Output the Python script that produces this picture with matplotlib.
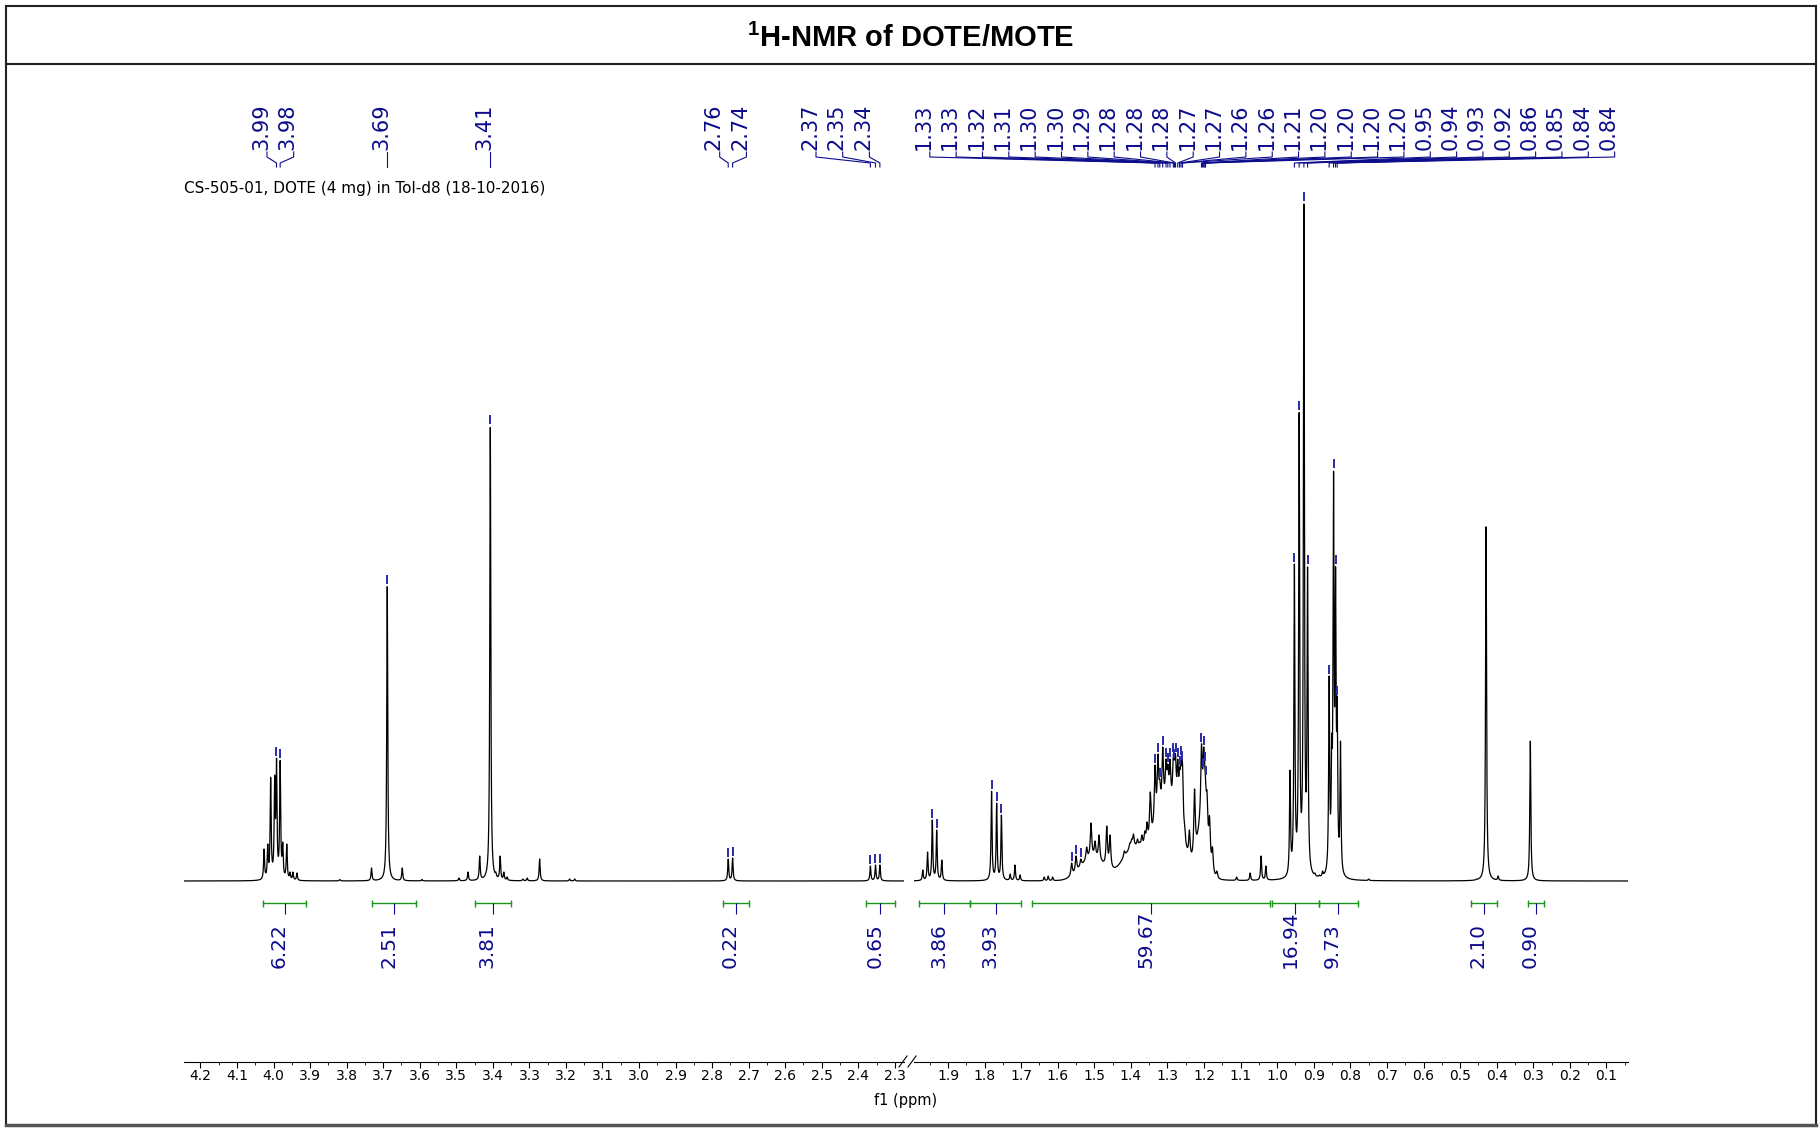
import numpy as np
import matplotlib
matplotlib.use('Agg')
import matplotlib.pyplot as plt
from matplotlib.lines import Line2D
from matplotlib.ticker import MultipleLocator, FormatStrFormatter

plt.rcParams['font.family'] = 'DejaVu Sans'
plt.rcParams['mathtext.fontset'] = 'custom'
plt.rcParams['mathtext.bf'] = 'Liberation Sans:bold'
plt.rcParams['mathtext.rm'] = 'Liberation Sans'

NAVY = '#0c0c8c'
GREEN = '#1a961a'

# === peak list (ppm, intensity) ===
# picked peaks that carry a shift label at the top
pick_ppm = [3.992, 3.982, 3.689, 3.407, 2.756, 2.744, 2.367, 2.353, 2.341,
            1.334, 1.326, 1.321, 1.313, 1.304, 1.299, 1.293, 1.284, 1.281, 1.278,
            1.272, 1.267, 1.263, 1.259,
            1.207, 1.204, 1.201, 1.198, 1.196,
            0.953, 0.940, 0.927, 0.917, 0.858, 0.846, 0.8405, 0.836]
pick_height = [123, 121, 295, 455, 22, 23, 15, 16, 16,
               116, 127, 102, 134, 122, 117, 122, 127, 121, 127,
               122, 114, 124, 119,
               137, 112, 134, 118, 104,
               317, 469, 678, 315, 205, 411, 315, 184]

# picked peaks without a label
mark_ppm = [1.943, 1.931, 1.781, 1.767, 1.754, 1.562, 1.550, 1.537]
mark_height = [61, 51, 90, 78, 66, 18, 25, 22]

# remaining lines
other_ppm = [4.026, 4.016, 4.008, 3.997, 3.975, 3.964, 3.955, 3.947, 3.936,
             3.819, 3.732, 3.648, 3.594, 3.493, 3.468, 3.436, 3.392, 3.380,
             3.370, 3.361, 3.318, 3.306, 3.272, 3.190, 3.176,
             1.969, 1.956, 1.917, 1.730, 1.717, 1.703, 1.637, 1.626, 1.614,
             1.521, 1.509, 1.498, 1.487, 1.466, 1.457, 1.426, 1.418, 1.412,
             1.403, 1.398, 1.393, 1.382, 1.376, 1.370, 1.362, 1.356, 1.347,
             1.253, 1.240, 1.226,
             1.192, 1.185, 1.177, 1.165, 1.111, 1.074, 1.044, 1.031,
             0.965, 0.897, 0.885, 0.876, 0.851, 0.827, 0.818, 0.750,
             0.455, 0.429, 0.396, 0.308]
other_height = [32, 37, 104, 106, 39, 37, 9, 9, 8,
                1.5, 13, 13, 1.5, 3, 9, 25, 9, 25,
                9, 4, 2, 3, 22, 2, 2,
                11, 29, 21, 7, 16, 6, 4, 5, 4,
                34, 58, 40, 46, 55, 46, 20, 30, 28,
                38, 42, 47, 42, 39, 46, 50, 59, 89,
                57, 51, 92,
                90, 65, 34, 10, 4, 8, 25, 15,
                111, 8, 6, 10, 147, 140, 8, 2,
                2, 355, 5, 140]

# broad envelope under the methylene region
hump_ppm = [1.505, 1.395, 1.300, 1.205]
hump_height = [22, 30, 72, 52]
hump_sigma = [0.032, 0.030, 0.035, 0.013]

# integrals
int_from = [4.03, 3.73, 3.45, 2.77, 2.38, 1.98, 1.84, 1.67, 1.013, 0.887, 0.47, 0.315]
int_to = [3.91, 3.61, 3.35, 2.70, 2.30, 1.84, 1.70, 1.02, 0.887, 0.78, 0.40, 0.27]
int_value = [6.22, 2.51, 3.81, 0.22, 0.65, 3.86, 3.93, 59.67, 16.94, 9.73, 2.10, 0.90]

# ppm window of the two panels (axis break between them)
left_lim = (4.244, 2.275)
right_lim = (1.993, 0.042)

# === line shape ===
line_ppm = np.array(pick_ppm + mark_ppm + other_ppm)
line_height = np.array(pick_height + mark_height + other_height, dtype=float)
line_hwhm = np.where((line_ppm > 1.15) & (line_ppm < 1.6), 0.0024, 0.0016)


def envelope(x):
    x = np.asarray(x, dtype=float)[:, None]
    return (np.array(hump_height) *
            np.exp(-0.5 * ((x - np.array(hump_ppm)) / np.array(hump_sigma)) ** 2)).sum(axis=1)


def lines(x, amp):
    d = (np.asarray(x, dtype=float)[:, None] - line_ppm) / line_hwhm
    return (amp / (1 + d ** 2)).sum(axis=1)


# amplitudes so that the trace reaches each listed height
target = np.clip(line_height - envelope(line_ppm), 0, None)
amp = target.copy()
for _ in range(500):
    amp = np.clip(amp + 0.5 * (target - lines(line_ppm, amp)), 0, None)


def spectrum(x):
    return envelope(x) + lines(x, amp)


# === figure ===
W, H = 1820, 1129
fig = plt.figure(figsize=(W / 100, H / 100), dpi=100)


def fx(x):
    return x / W


def fy(y):
    return 1 - y / H


base_px = 881.0     # pixel row of the spectrum baseline
axis_px = 1061.7    # pixel row of the ppm axis
top_px = 70.0
ax_l = fig.add_axes([fx(184.4), fy(axis_px), (904 - 184.4) / W, (axis_px - top_px) / H])
ax_r = fig.add_axes([fx(914), fy(axis_px), (1627.6 - 914) / W, (axis_px - top_px) / H])

for ax, lim in ((ax_l, left_lim), (ax_r, right_lim)):
    ax.set_xlim(*lim)
    ax.set_ylim(-(axis_px - base_px), base_px - top_px)
    for side in ('left', 'right', 'top'):
        ax.spines[side].set_visible(False)
    ax.spines['bottom'].set_linewidth(0.8)
    ax.set_yticks([])
    ax.xaxis.set_major_locator(MultipleLocator(0.1))
    ax.xaxis.set_minor_locator(MultipleLocator(0.05))
    ax.xaxis.set_major_formatter(FormatStrFormatter('%.1f'))
    ax.tick_params(axis='x', which='major', direction='out', length=4, width=0.8,
                   labelsize=10, pad=1.5)
    ax.tick_params(axis='x', which='minor', direction='out', length=2, width=0.6)
    ax.patch.set_alpha(0)

    xs = np.linspace(lim[0], lim[1], 10000)
    ax.plot(xs, spectrum(xs), color='black', lw=0.9)

# markers above picked peaks
for p in pick_ppm + mark_ppm:
    ax = ax_l if p > 2.1 else ax_r
    h = spectrum([p])[0]
    ax.vlines(p, h + 2, h + 11, color='#2a2aa8', lw=1.4)

# === shift labels with connector lines ===
pitch = 26.34
left_slots = [267.0, 293.7, None, None, 719.7, 746.4, 816.0, 842.7, 869.4]
right_slots = [929.8 + pitch * k for k in range(27)]
slots = left_slots + right_slots
for p, slot in zip(pick_ppm, slots):
    ax = ax_l if p > 2.1 else ax_r
    xp = ax.transData.transform((p, 0))[0]
    xl = xp if slot is None else slot
    fig.add_artist(Line2D([fx(xl), fx(xl), fx(xp), fx(xp)],
                          [fy(152), fy(157), fy(163), fy(167)],
                          color=NAVY, lw=0.8))
    fig.text(fx(xl), fy(150), f'{p:.2f}', rotation=90, rotation_mode='anchor',
             ha='left', va='baseline', fontsize=15, color=NAVY)

# === integrals ===
yi = base_px - 903.3
for a, b, v in zip(int_from, int_to, int_value):
    ax = ax_l if a > 2.1 else ax_r
    mid = (a + b) / 2
    ax.plot([a, b], [yi, yi], color=GREEN, lw=1.0, clip_on=False)
    ax.vlines([a, b], yi - 3.5, yi + 3.5, color=GREEN, lw=1.0, clip_on=False)
    ax.vlines(mid, yi - 11, yi, color=NAVY, lw=0.8, clip_on=False)
    ax.text(mid, base_px - 968, f'{v:.2f}', rotation=90, rotation_mode='anchor',
            ha='left', va='baseline', fontsize=14.5, color=NAVY, clip_on=False)

# axis break marks
for x0 in (899, 908):
    fig.add_artist(Line2D([fx(x0), fx(x0 + 8)], [fy(1067), fy(1056)], color='black', lw=0.8))

fig.text(fx(906), fy(1101), 'f1 (ppm)', ha='center', va='center', fontsize=10.5)
fig.text(fx(184.5), fy(189), 'CS-505-01, DOTE (4 mg) in Tol-d8 (18-10-2016)',
         ha='left', va='center', fontsize=11)

# title box and outer frame
fig.text(fx(911), fy(38), r'$^{\mathbf{1}}$H-NMR of DOTE/MOTE', ha='center', va='center',
         fontsize=21, fontweight='bold', family='Liberation Sans')
frame = dict(color='#222222', lw=1.5)
fig.add_artist(Line2D([fx(6), fx(1816)], [fy(6), fy(6)], **frame))
fig.add_artist(Line2D([fx(6), fx(1816)], [fy(64), fy(64)], **frame))
fig.add_artist(Line2D([fx(6), fx(6)], [fy(6), fy(1125)], **frame))
fig.add_artist(Line2D([fx(1816), fx(1816)], [fy(6), fy(1125)], **frame))
fig.add_artist(Line2D([fx(6), fx(1816)], [fy(1125), fy(1125)], color='#555555', lw=2.5))

fig.savefig('out.png', dpi=100)
